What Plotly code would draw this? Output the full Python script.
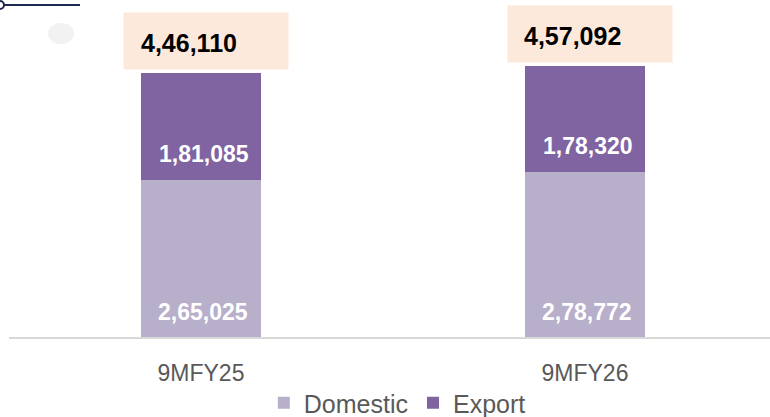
import plotly.graph_objects as go

# data
periods = ["9MFY25", "9MFY26"]
domestic = [265025, 278772]
export = [181085, 178320]
totals = [446110, 457092]


def fmt_in(v):
    # Indian digit grouping: 4,46,110
    s = str(v)
    head, tail = s[:-3], s[-3:]
    parts = []
    while len(head) > 2:
        parts.insert(0, head[-2:])
        head = head[:-2]
    if head:
        parts.insert(0, head)
    return ",".join(parts + [tail])


FONT = "Liberation Sans, Arial, sans-serif"
DOM_COLOR = "#B8AFCB"
EXP_COLOR = "#8064A2"

fig = go.Figure()
fig.add_trace(go.Bar(x=periods, y=domestic, name="Domestic", width=0.3125,
                     marker=dict(color=DOM_COLOR, line=dict(width=0))))
fig.add_trace(go.Bar(x=periods, y=export, name="Export", width=0.3125,
                     marker=dict(color=EXP_COLOR, line=dict(width=0))))

annotations = []
for p, d, e, t in zip(periods, domestic, export, totals):
    annotations.append(dict(x=p, y=0, text=f"<b>{fmt_in(d)}</b>", showarrow=False,
                            yanchor="middle", yshift=25, xshift=2,
                            font=dict(family=FONT, size=23, color="white")))
    annotations.append(dict(x=p, y=d, text=f"<b>{fmt_in(e)}</b>", showarrow=False,
                            yanchor="middle", yshift=26, xshift=3,
                            font=dict(family=FONT, size=23, color="white")))
    # peach box behind the total, then the total itself
    annotations.append(dict(x=p, y=t, text=" ", showarrow=False,
                            yanchor="middle", yshift=32, xshift=5,
                            width=162, height=54, bgcolor="#FDE9DB"))
    annotations.append(dict(x=p, y=t, text=f"<b>{fmt_in(t)}</b>", showarrow=False,
                            yanchor="middle", yshift=30, xshift=-12,
                            font=dict(family=FONT, size=25, color="black")))

shapes = [
    # decorative bits in the top-left corner
    dict(type="line", xref="paper", yref="paper", x0=-9 / 761, x1=71 / 761,
         y0=(337 - 5) / 337, y1=(337 - 5) / 337,
         line=dict(color="#1F2B4E", width=2)),
    dict(type="circle", xref="paper", yref="paper",
         x0=-13 / 761, x1=-5 / 761, y0=(337 - 9) / 337, y1=(337 - 1) / 337,
         fillcolor="white", line=dict(color="#1F2B4E", width=2)),
    dict(type="circle", xref="paper", yref="paper",
         x0=(48 - 9) / 761, x1=(74 - 9) / 761,
         y0=(337 - 44) / 337, y1=(337 - 23) / 337,
         fillcolor="#F2F2F2", line=dict(width=0)),
]

fig.update_layout(
    barmode="stack",
    width=770, height=417,
    margin=dict(l=9, r=0, t=0, b=80, autoexpand=False),
    paper_bgcolor="white", plot_bgcolor="white",
    font=dict(family=FONT, color="#595959"),
    showlegend=True,
    legend=dict(orientation="h", xref="container", yref="container", traceorder="normal",
                x=0.516, xanchor="center", y=1 - 403 / 417, yanchor="middle",
                font=dict(size=25, color="#595959"), itemclick=False),
    annotations=annotations,
    shapes=shapes,
)
fig.update_xaxes(range=[-0.5, 1.4818], showline=True, linecolor="#D9D9D9", linewidth=2,
                 ticks="outside", ticklen=14, tickcolor="rgba(0,0,0,0)", automargin=False,
                 tickfont=dict(size=23, color="#595959"), showgrid=False)
fig.update_yaxes(range=[0, 569000], visible=False, showgrid=False)

fig.write_html("out.html", config={"displayModeBar": False},
               post_script="document.body.style.margin='0';")
